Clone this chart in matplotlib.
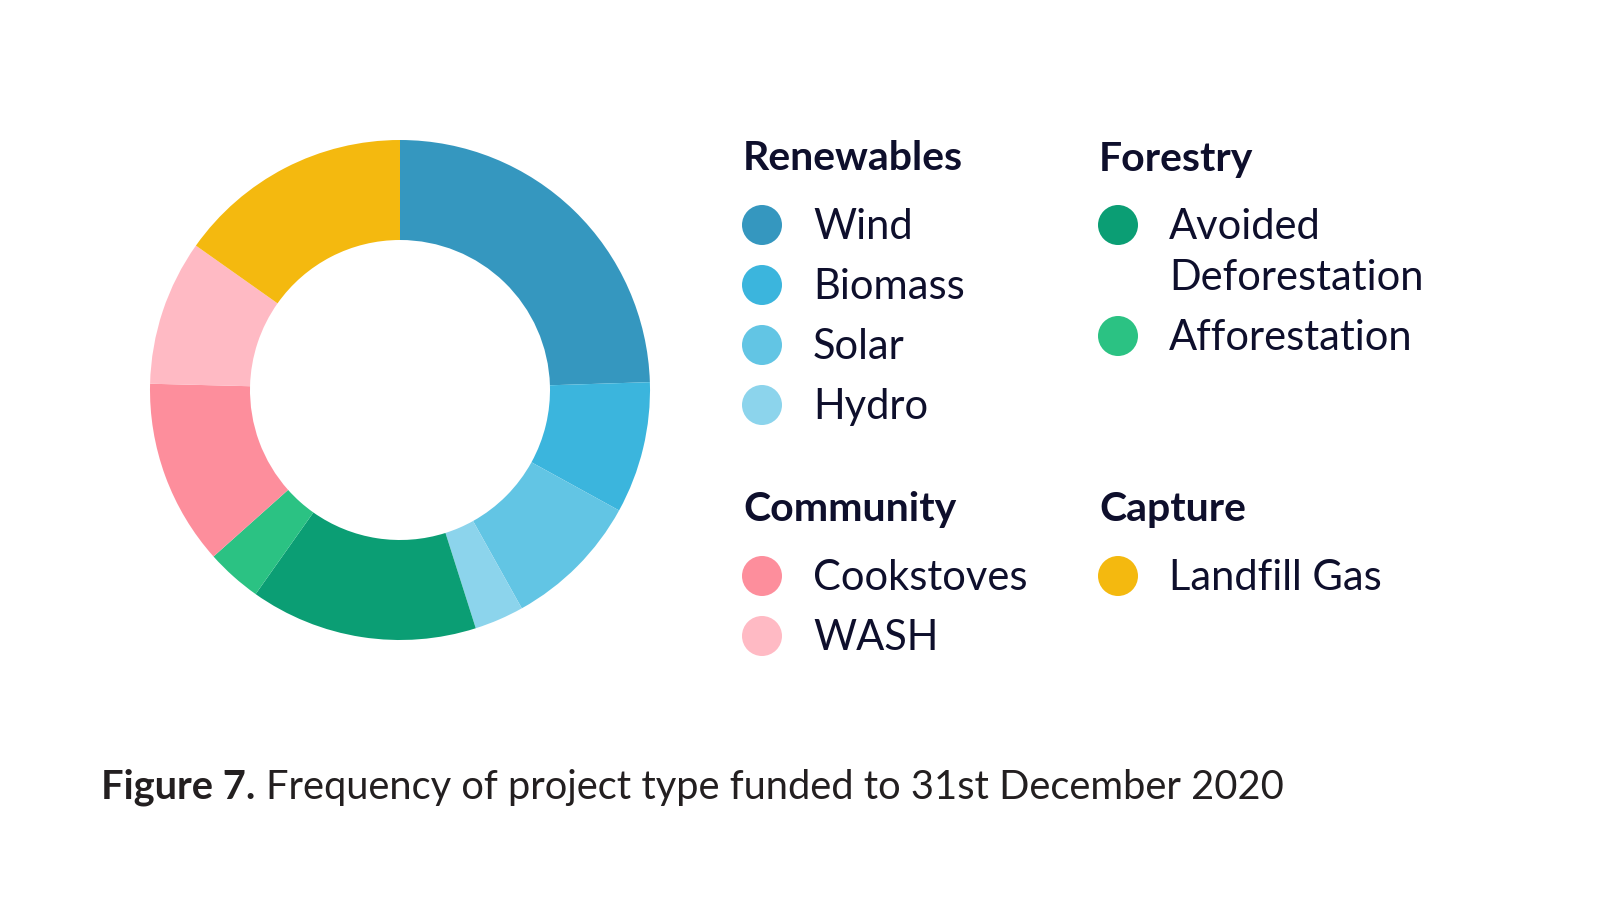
import matplotlib.pyplot as plt
from matplotlib.patches import Circle

labels = ["Wind", "Biomass", "Solar", "Hydro", "Avoided Deforestation",
          "Afforestation", "Cookstoves", "WASH", "Landfill Gas"]
shares = [24.5, 8.5, 8.9, 3.2, 14.7, 3.6, 12.0, 9.4, 15.2]
colors = ["#3597bf", "#3bb5dd", "#62c5e4", "#8cd4ec", "#0b9e74",
          "#2bc283", "#fd8e9c", "#ffbac4", "#f4b90f"]

groups = ["Renewables", "Forestry", "Community", "Capture"]
group_members = [
    ["Wind", "Biomass", "Solar", "Hydro"],
    ["Avoided Deforestation", "Afforestation"],
    ["Cookstoves", "WASH"],
    ["Landfill Gas"],
]

plt.rcParams["font.family"] = ["Lato", "DejaVu Sans"]
navy = "#0e0f2c"

W, H = 1600, 900
fig = plt.figure(figsize=(16, 9), dpi=100)
fig.patch.set_facecolor("white")

# donut
ax = fig.add_axes([150 / W, 1 - 640 / H, 500 / W, 500 / H])
ax.pie(shares, colors=colors, startangle=90, counterclock=False, radius=1,
       wedgeprops=dict(width=0.4, linewidth=0))
ax.set_xlim(-1, 1)
ax.set_ylim(-1, 1)
ax.set_aspect("equal")
ax.axis("off")

# legend drawn in pixel coordinates
lg = fig.add_axes([0, 0, 1, 1], zorder=5)
lg.set_xlim(0, W)
lg.set_ylim(H, 0)
lg.axis("off")
lg.patch.set_alpha(0)

col_x = [743, 1099]
header_y = [159, 510]
row_step = 60
wrap_step = 51

for gi, (g, members) in enumerate(zip(groups, group_members)):
    x0 = col_x[gi % 2]
    y0 = header_y[gi // 2]
    lg.text(x0, y0, g, fontsize=29.5, fontweight="bold", color=navy,
            ha="left", va="center")
    y = y0 + 66
    for m in members:
        c = colors[labels.index(m)]
        lg.add_patch(Circle((x0 + 19, y), 20, color=c, lw=0))
        ty = y + 2
        # the long label wraps onto a second line
        lines = m.split(" ") if m == "Avoided Deforestation" else [m]
        for line in lines:
            lg.text(x0 + 70, ty, line, fontsize=30, color=navy,
                    ha="left", va="center")
            ty += wrap_step
        y += row_step + wrap_step * (len(lines) - 1)

# caption
cap_y = 1 - 787 / H
t1 = fig.text(101 / W, cap_y, "Figure 7.", fontsize=28.7, fontweight="bold",
              color="#231f20", ha="left", va="center")
fig.canvas.draw()
bb = t1.get_window_extent()
fig.text((bb.x1 + 11) / W, cap_y,
         "Frequency of project type funded to 31st December 2020",
         fontsize=28.7, color="#231f20", ha="left", va="center")

fig.savefig("out.png", dpi=100, facecolor="white")
